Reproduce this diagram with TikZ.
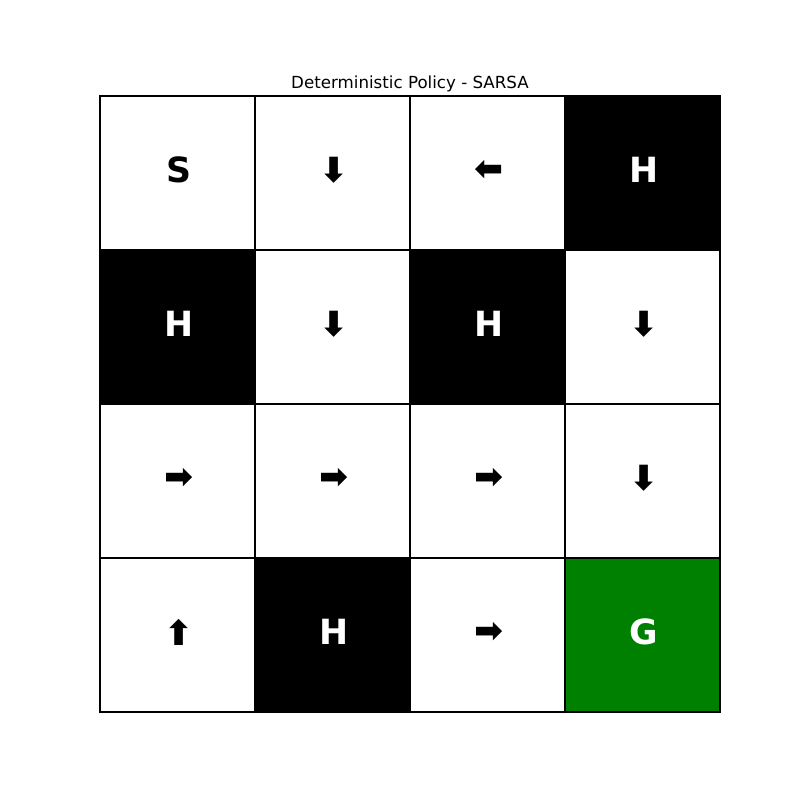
\documentclass[tikz,border=0pt]{standalone}
\usepackage{fontspec}
\setmainfont{DejaVu Sans}
\begin{document}
\begin{tikzpicture}[x=0.72bp,y=-0.72bp,
  cellbox/.style={draw=black,line width=1.5bp,minimum width=155*0.72bp,minimum height=154*0.72bp,inner sep=0pt,outer sep=0pt,anchor=north west},
  free/.style={cellbox,fill=white},
  hole/.style={cellbox,fill=black},
  goal/.style={cellbox,fill={rgb,255:red,0;green,128;blue,0}},
  cellsym/.style={font=\fontsize{25bp}{30bp}\selectfont\bfseries,inner sep=0pt,yshift=3*0.72bp,xshift=1.5*0.72bp},
  dark/.style={cellsym,text=black},
  light/.style={cellsym,text=white}]
\useasboundingbox (0,0) rectangle (800,800);
\node[anchor=base,font=\fontsize{12bp}{14bp}\selectfont] (title) at (410,88) {Deterministic Policy - SARSA};
% row 0
\node[free] (c00) at (100,96) {};
\node[free] (c01) at (255,96) {};
\node[free] (c02) at (410,96) {};
\node[hole] (c03) at (565,96) {};
% row 1
\node[hole] (c10) at (100,250) {};
\node[free] (c11) at (255,250) {};
\node[hole] (c12) at (410,250) {};
\node[free] (c13) at (565,250) {};
% row 2
\node[free] (c20) at (100,404) {};
\node[free] (c21) at (255,404) {};
\node[free] (c22) at (410,404) {};
\node[free] (c23) at (565,404) {};
% row 3
\node[free] (c30) at (100,558) {};
\node[hole] (c31) at (255,558) {};
\node[free] (c32) at (410,558) {};
\node[goal] (c33) at (565,558) {};
% labels
\node[dark] (t00) at (c00.center) {S};
\node[dark] (t01) at (c01.center) {⬇};
\node[dark] (t02) at (c02.center) {⬅};
\node[light] (t03) at (c03.center) {H};
\node[light] (t10) at (c10.center) {H};
\node[dark] (t11) at (c11.center) {⬇};
\node[light] (t12) at (c12.center) {H};
\node[dark] (t13) at (c13.center) {⬇};
\node[dark] (t20) at (c20.center) {➡};
\node[dark] (t21) at (c21.center) {➡};
\node[dark] (t22) at (c22.center) {➡};
\node[dark] (t23) at (c23.center) {⬇};
\node[dark] (t30) at (c30.center) {⬆};
\node[light] (t31) at (c31.center) {H};
\node[dark] (t32) at (c32.center) {➡};
\node[light] (t33) at (c33.center) {G};
\end{tikzpicture}
\end{document}
